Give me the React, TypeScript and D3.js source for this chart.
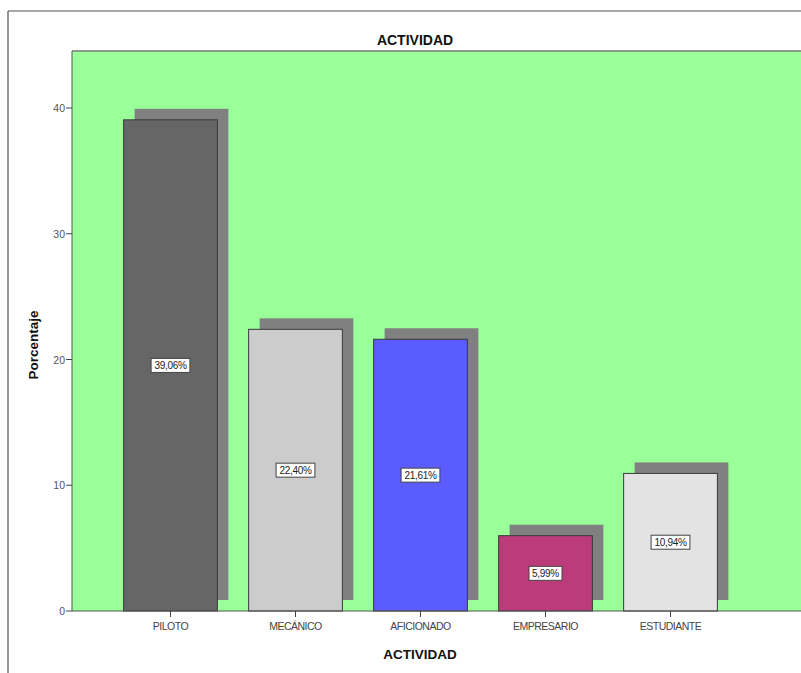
import React from "react";
import * as d3 from "d3";

const categories = ["PILOTO", "MECÁNICO", "AFICIONADO", "EMPRESARIO", "ESTUDIANTE"];
const percentages = [39.06, 22.4, 21.61, 5.99, 10.94];
const barColors = ["#666666", "#cccccc", "#5a5cff", "#bc3b7a", "#e3e3e3"];
const yTicks = [0, 10, 20, 30, 40];

const W = 801;
const H = 673;
const plot = { left: 72, right: 801, top: 51, bottom: 611 };
const shadowDx = 11;
const shadowDy = 11;

const fmt = (v: number) => v.toFixed(2).replace(".", ",") + "%";

export default function App() {
  const x = d3
    .scaleBand<string>()
    .domain(categories)
    .range([108, 733])
    .paddingInner(0.25)
    .paddingOuter(0.125);
  const y = d3.scaleLinear().domain([0, 40]).range([plot.bottom, 108]);
  const font = "'Liberation Sans', Arial, sans-serif";

  return (
    <svg
      width={W}
      height={H}
      style={{ position: "absolute", left: 0, top: 0, background: "#fff" }}
      fontFamily={font}
    >
      {/* outer frame */}
      <line x1={8} y1={11} x2={W} y2={11} stroke="#555" strokeWidth={1.2} />
      <line x1={8} y1={11} x2={8} y2={H} stroke="#555" strokeWidth={1.2} />

      <text x={415} y={45} textAnchor="middle" fontSize={14} fontWeight="bold" fill="#111">
        ACTIVIDAD
      </text>

      {/* plot background */}
      <rect
        x={plot.left}
        y={plot.top}
        width={plot.right - plot.left}
        height={plot.bottom - plot.top}
        fill="#99ff99"
      />
      <line x1={plot.left} y1={plot.top} x2={plot.right} y2={plot.top} stroke="#8a9a8a" strokeWidth={2} />

      {/* shadows */}
      {categories.map((c, i) => (
        <rect
          key={"s" + c}
          x={(x(c) as number) + shadowDx}
          y={y(percentages[i]) - shadowDy}
          width={x.bandwidth()}
          height={y(0) - y(percentages[i])}
          fill="#808080"
        />
      ))}

      {/* bars */}
      {categories.map((c, i) => (
        <rect
          key={"b" + c}
          x={x(c) as number}
          y={y(percentages[i])}
          width={x.bandwidth()}
          height={y(0) - y(percentages[i])}
          fill={barColors[i]}
          stroke="#3a3a3a"
          strokeWidth={1}
        />
      ))}

      {/* value labels */}
      {categories.map((c, i) => {
        const cx = (x(c) as number) + x.bandwidth() / 2;
        const cy = (y(percentages[i]) + y(0)) / 2;
        const label = fmt(percentages[i]);
        const bw = label.length * 5.8 + 4;
        return (
          <g key={"l" + c}>
            <rect x={cx - bw / 2} y={cy - 7} width={bw} height={14} fill="#fff" stroke="#444" strokeWidth={1} />
            <text x={cx} y={cy + 4} textAnchor="middle" fontSize={10} fill="#222" letterSpacing={-0.3}>
              {label}
            </text>
          </g>
        );
      })}

      {/* y axis */}
      <line x1={plot.left} y1={plot.top} x2={plot.left} y2={plot.bottom} stroke="#555" strokeWidth={1} />
      {yTicks.map((t) => (
        <g key={"yt" + t}>
          <line x1={plot.left - 6} y1={y(t)} x2={plot.left} y2={y(t)} stroke="#444" />
          <text x={plot.left - 7} y={y(t) + 4} textAnchor="end" fontSize={10.5} fill="#555">
            {t}
          </text>
        </g>
      ))}
      <text
        transform={`translate(38, ${(plot.top + plot.bottom) / 2 + 14}) rotate(-90)`}
        textAnchor="middle"
        fontSize={13.5}
        fontWeight="bold"
        fill="#111"
      >
        Porcentaje
      </text>

      {/* x axis */}
      <line x1={plot.left} y1={plot.bottom} x2={plot.right} y2={plot.bottom} stroke="#555" strokeWidth={1} />
      {categories.map((c) => {
        const cx = (x(c) as number) + x.bandwidth() / 2;
        return (
          <g key={"xt" + c}>
            <line x1={cx} y1={plot.bottom} x2={cx} y2={plot.bottom + 6} stroke="#444" />
            <text x={cx} y={plot.bottom + 19} textAnchor="middle" fontSize={10.5} fill="#444" letterSpacing={-0.5}>
              {c}
            </text>
          </g>
        );
      })}
      <text x={420} y={659} textAnchor="middle" fontSize={13.5} fontWeight="bold" fill="#111">
        ACTIVIDAD
      </text>
    </svg>
  );
}
